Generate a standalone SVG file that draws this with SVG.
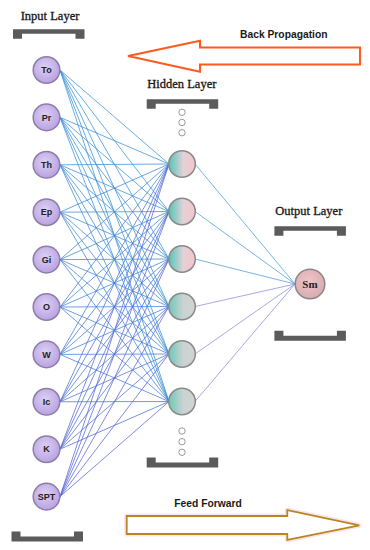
<svg xmlns="http://www.w3.org/2000/svg" width="370" height="550" viewBox="0 0 370 550">
<style>
.lbl{font-family:"Liberation Serif","Times New Roman",serif;font-size:12.5px;fill:#151515;stroke:#151515;stroke-width:0.3}
.arrowlbl{font-family:"Liberation Sans",Arial,sans-serif;font-size:10.3px;font-weight:bold;fill:#1a1a1a}
.in circle{fill:url(#gIn);stroke:#8d7ea6;stroke-width:1.5}
.in text{font-family:"Liberation Sans",Arial,sans-serif;font-size:9px;font-weight:bold;fill:#222;text-anchor:middle}
.hid{stroke:#8a8a8a;stroke-width:1.5}
.dot{fill:#fff;stroke:#9a9a9a;stroke-width:1}
.br{fill:#5b5b5b}
.c{fill:none;stroke-width:0.9;stroke-opacity:0.85}
</style>
<defs>
<radialGradient id="gIn" cx="0.45" cy="0.4" r="0.6">
<stop offset="0" stop-color="#ddd0f4"/>
<stop offset="1" stop-color="#b9a2e2"/>
</radialGradient>
<linearGradient id="gH1" x1="0" y1="0" x2="1" y2="0">
<stop offset="0" stop-color="#4fc6b8"/>
<stop offset="0.55" stop-color="#e2d2d6"/>
<stop offset="1" stop-color="#f7c3cb"/>
</linearGradient>
<linearGradient id="gH2" x1="0" y1="0" x2="1" y2="0">
<stop offset="0" stop-color="#70c6bc"/>
<stop offset="0.55" stop-color="#c9d3d2"/>
<stop offset="1" stop-color="#d3d3d3"/>
</linearGradient>
<radialGradient id="gOut" cx="0.45" cy="0.4" r="0.6">
<stop offset="0" stop-color="#f0c4c8"/>
<stop offset="1" stop-color="#d6adb2"/>
</radialGradient>
<path id="brT" d="M0,0 H71.5 V9.5 H62.5 V4.5 H9 V9.5 H0 Z"/>
<path id="brB" d="M0,0 H9 V5 H62.5 V0 H71.5 V10 H0 Z"/>
</defs>
<rect width="370" height="550" fill="#ffffff"/>

<g id="connectors">
<path class="c" stroke="#3a93d8" d="M60,70 L169,164 M60,70 L169,211.5 M60,70 L169,259 M60,70 L169,306.5 M60,70 L169,354 M60,70 L169,401.5"/>
<path class="c" stroke="#3b90d8" d="M60,117.4 L169,164 M60,117.4 L169,211.5 M60,117.4 L169,259 M60,117.4 L169,306.5 M60,117.4 L169,354 M60,117.4 L169,401.5"/>
<path class="c" stroke="#3c8dd8" d="M60,164.8 L169,164 M60,164.8 L169,211.5 M60,164.8 L169,259 M60,164.8 L169,306.5 M60,164.8 L169,354 M60,164.8 L169,401.5"/>
<path class="c" stroke="#3e8ad8" d="M60,212.2 L169,164 M60,212.2 L169,211.5 M60,212.2 L169,259 M60,212.2 L169,306.5 M60,212.2 L169,354 M60,212.2 L169,401.5"/>
<path class="c" stroke="#4086d8" d="M60,259.6 L169,164 M60,259.6 L169,211.5 M60,259.6 L169,259 M60,259.6 L169,306.5 M60,259.6 L169,354 M60,259.6 L169,401.5"/>
<path class="c" stroke="#4381d8" d="M60,307 L169,164 M60,307 L169,211.5 M60,307 L169,259 M60,307 L169,306.5 M60,307 L169,354 M60,307 L169,401.5"/>
<path class="c" stroke="#477bd8" d="M60,354.4 L169,164 M60,354.4 L169,211.5 M60,354.4 L169,259 M60,354.4 L169,306.5 M60,354.4 L169,354 M60,354.4 L169,401.5"/>
<path class="c" stroke="#4c74d8" d="M60,401.8 L169,164 M60,401.8 L169,211.5 M60,401.8 L169,259 M60,401.8 L169,306.5 M60,401.8 L169,354 M60,401.8 L169,401.5"/>
<path class="c" stroke="#526dd8" d="M60,449.2 L169,164 M60,449.2 L169,211.5 M60,449.2 L169,259 M60,449.2 L169,306.5 M60,449.2 L169,354 M60,449.2 L169,401.5"/>
<path class="c" stroke="#5867d8" d="M60,496.6 L169,164 M60,496.6 L169,211.5 M60,496.6 L169,259 M60,496.6 L169,306.5 M60,496.6 L169,354 M60,496.6 L169,401.5"/>
<path class="c" stroke="#4a9ed8" d="M195,164 L295,284 M195,211.5 L295,284 M195,259 L295,284"/>
<path class="c" stroke="#8c8be0" d="M195,306.5 L295,284 M195,354 L295,284 M195,401.5 L295,284"/>
</g>

<g id="input-layer-label"><text class="lbl" x="20.7" y="20">Input Layer</text><use href="#brT" class="br" x="13" y="29.3"/><use href="#brB" class="br" x="11.5" y="531.5"/></g>
<g id="hidden-layer-label"><text class="lbl" x="147.3" y="88.3">Hidden Layer</text><use href="#brT" class="br" x="146.7" y="99.3"/><use href="#brB" class="br" x="146.7" y="457.5"/></g>
<g id="output-layer-label"><text class="lbl" x="275.3" y="215">Output Layer</text><use href="#brT" class="br" x="274.4" y="226.2"/><use href="#brB" class="br" x="274.4" y="330.8"/></g>

<g id="in-To" class="in"><circle cx="46.5" cy="70" r="13.3"/><text x="46.5" y="73.2">To</text></g>
<g id="in-Pr" class="in"><circle cx="46.5" cy="117.4" r="13.3"/><text x="46.5" y="120.6">Pr</text></g>
<g id="in-Th" class="in"><circle cx="46.5" cy="164.8" r="13.3"/><text x="46.5" y="168">Th</text></g>
<g id="in-Ep" class="in"><circle cx="46.5" cy="212.2" r="13.3"/><text x="46.5" y="215.4">Ep</text></g>
<g id="in-Gi" class="in"><circle cx="46.5" cy="259.6" r="13.3"/><text x="46.5" y="262.8">Gi</text></g>
<g id="in-O" class="in"><circle cx="46.5" cy="307" r="13.3"/><text x="46.5" y="310.2">O</text></g>
<g id="in-W" class="in"><circle cx="46.5" cy="354.4" r="13.3"/><text x="46.5" y="357.6">W</text></g>
<g id="in-Ic" class="in"><circle cx="46.5" cy="401.8" r="13.3"/><text x="46.5" y="405">Ic</text></g>
<g id="in-K" class="in"><circle cx="46.5" cy="449.2" r="13.3"/><text x="46.5" y="452.4">K</text></g>
<g id="in-SPT" class="in"><circle cx="46.5" cy="496.6" r="13.3"/><text x="46.5" y="499.8">SPT</text></g>

<g id="hidden-dots-top"><circle class="dot" cx="182" cy="112.3" r="3.2"/><circle class="dot" cx="182" cy="122.5" r="3.2"/><circle class="dot" cx="182" cy="132.7" r="3.2"/></g>
<g id="hid-1"><circle class="hid" cx="182" cy="164" r="13.3" fill="url(#gH1)"/></g>
<g id="hid-2"><circle class="hid" cx="182" cy="211.5" r="13.3" fill="url(#gH1)"/></g>
<g id="hid-3"><circle class="hid" cx="182" cy="259" r="13.3" fill="url(#gH1)"/></g>
<g id="hid-4"><circle class="hid" cx="182" cy="306.5" r="13.3" fill="url(#gH2)"/></g>
<g id="hid-5"><circle class="hid" cx="182" cy="354" r="13.3" fill="url(#gH2)"/></g>
<g id="hid-6"><circle class="hid" cx="182" cy="401.5" r="13.3" fill="url(#gH2)"/></g>
<g id="hidden-dots-bottom"><circle class="dot" cx="182" cy="431" r="3.2"/><circle class="dot" cx="182" cy="441.7" r="3.2"/><circle class="dot" cx="182" cy="452.3" r="3.2"/></g>

<g id="out-Sm"><circle cx="310" cy="284" r="14.8" fill="url(#gOut)" stroke="#8d8585" stroke-width="1.5"/><text x="310" y="288" text-anchor="middle" font-family="Liberation Serif,'Times New Roman',serif" font-size="11" font-weight="bold" fill="#222">Sm</text></g>

<g id="back-propagation">
<polygon points="128,56 200,40.7 200,47.5 360,47.5 360,64.5 200,64.5 200,71.7" fill="#fff" stroke="#ff5a1e" stroke-width="2" stroke-linejoin="miter"/>
<text class="arrowlbl" x="240" y="37.7">Back Propagation</text>
</g>
<g id="feed-forward">
<polygon points="126.7,516 287.3,516 287.3,510 359.3,525.3 287.3,540 287.3,534 126.7,534" fill="none" stroke="#fbe3f2" stroke-width="5" stroke-linejoin="round"/>
<polygon points="126.7,516 287.3,516 287.3,510 359.3,525.3 287.3,540 287.3,534 126.7,534" fill="#fff" stroke="#b8881e" stroke-width="1.8"/>
<text class="arrowlbl" x="174.3" y="506.7">Feed Forward</text>
</g>
</svg>
